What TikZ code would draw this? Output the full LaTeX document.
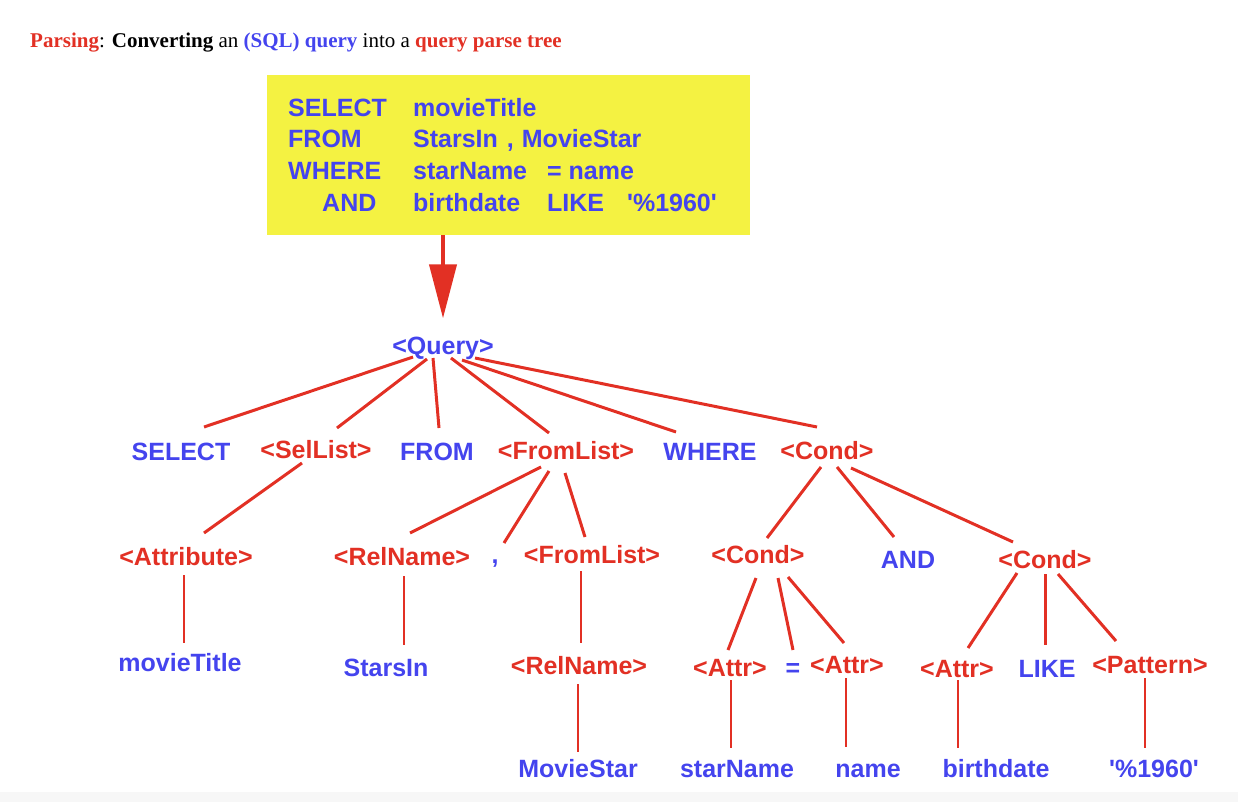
\documentclass[tikz,border=0pt]{standalone}
\usepackage{fontspec}
\setmainfont{Liberation Serif}
\newfontfamily\treefont{Liberation Sans}
\usetikzlibrary{arrows.meta,calc}

\definecolor{sqlblue}{RGB}{68,68,238}
\definecolor{treered}{RGB}{226,48,36}
\definecolor{boxyellow}{RGB}{244,242,66}

\tikzset{
  term/.style={anchor=base, inner sep=0pt, text=sqlblue,
    font=\treefont\bfseries\fontsize{25}{30}\selectfont},
  nonterm/.style={term, text=treered},
  sqltext/.style={term, anchor=base west},
  edge/.style={treered, line width=3pt},
  leaf/.style={treered, line width=1.6pt},
  bigarrow/.style={treered, line width=4pt, -{Triangle[width=27pt,length=54pt]}},
}

\begin{document}
\begin{tikzpicture}[x=1pt,y=-1pt]
  \useasboundingbox (0,0) rectangle (1238,802);
  \fill[gray!6] (0,792) rectangle (1238,802);

  % title
  \node[anchor=base west, inner sep=0pt, font=\fontsize{21}{25}\selectfont] (title) at (30,48)
    {\textbf{\color{treered}Parsing}: \textbf{Converting} an \textbf{\color{sqlblue}(SQL) query} into a \textbf{\color{treered}query parse tree}};

  % the query
  \node[fill=boxyellow, minimum width=483, minimum height=160, inner sep=0pt] (sql) at (508.5,155) {};
  \node[sqltext] (kwsel) at (288,117) {SELECT};
  \node[sqltext] (kwfrom) at (288,148) {FROM};
  \node[sqltext] (kwwhere) at (288,180) {WHERE};
  \node[sqltext] (kwand) at (322,212) {AND};
  \node[sqltext] (argsel) at (413,117) {movieTitle};
  \node[sqltext] (argfrom) at (413,148) {StarsIn\hspace{9pt},\hspace{8pt}MovieStar};
  \node[sqltext] (argwhere) at (413,180) {starName\hspace{20pt}= name};
  \node[sqltext] (argand) at (413,212) {birthdate\hspace{27pt}LIKE\hspace{23pt}\textquotesingle\%1960\textquotesingle};

  % parse tree
  \node[term] (q) at (443,354) {<Query>};
  \draw[bigarrow, shorten >=18pt] (q.north |- sql.south) -- (q.north);

  \node[term] (sel) at (181,460) {SELECT};
  \node[nonterm] (sl) at (316,458) {<SelList>};
  \node[term] (from) at (437,460) {FROM};
  \node[nonterm] (fl) at (566,459) {<FromList>};
  \node[term] (where) at (710,460) {WHERE};
  \node[nonterm] (cond) at (827,459) {<Cond>};

  \node[nonterm] (attrib) at (186,565) {<Attribute>};
  \node[nonterm] (rn) at (402,565) {<RelName>};
  \node[term] (comma) at (495,563) {,};
  \node[nonterm] (fl2) at (592,563) {<FromList>};
  \node[nonterm] (c1) at (758,563) {<Cond>};
  \node[term] (and) at (908,568) {AND};
  \node[nonterm] (c2) at (1045,568) {<Cond>};

  \node[term] (mt) at (180,671) {movieTitle};
  \node[term] (si) at (386,676) {StarsIn};
  \node[nonterm] (rn2) at (579,674) {<RelName>};
  \node[nonterm] (a1) at (730,676) {<Attr>};
  \node[term] (eq) at (793,676) {=};
  \node[nonterm] (a2) at (847,673) {<Attr>};
  \node[nonterm] (a3) at (957,677) {<Attr>};
  \node[term] (like) at (1047,677) {LIKE};
  \node[nonterm] (pat) at (1150,673) {<Pattern>};

  \node[term] (ms) at (578,777) {MovieStar};
  \node[term] (sn) at (737,777) {starName};
  \node[term] (nm) at (868,777) {name};
  \node[term] (bd) at (996,777) {birthdate};
  \node[term] (pct) at (1154,777) {\textquotesingle\%1960\textquotesingle};

  % branches
  \draw[edge] ($(q.base)+(-30,3)$) -- ($(sel.base)+(23,-33)$);
  \draw[edge] ($(q.base)+(-16,5)$) -- ($(sl.base)+(21,-30)$);
  \draw[edge] ($(q.base)+(-10,4)$) -- ($(from.base)+(2,-32)$);
  \draw[edge] ($(q.base)+(8,4)$) -- ($(fl.base)+(-17,-26)$);
  \draw[edge] ($(q.base)+(19,6)$) -- ($(where.base)+(-34,-28)$);
  \draw[edge] ($(q.base)+(32,4)$) -- ($(cond.base)+(-10,-32)$);

  \draw[edge] ($(sl.base)+(-14,5)$) -- ($(attrib.base)+(18,-32)$);
  \draw[edge] ($(fl.base)+(-25,8)$) -- ($(rn.base)+(8,-32)$);
  \draw[edge] ($(fl.base)+(-17,12)$) -- ($(comma.base)+(9,-20)$);
  \draw[edge] ($(fl.base)+(-1,14)$) -- ($(fl2.base)+(-7,-26)$);
  \draw[edge] ($(cond.base)+(-6,8)$) -- ($(c1.base)+(9,-25)$);
  \draw[edge] ($(cond.base)+(10,8)$) -- ($(and.base)+(-14,-31)$);
  \draw[edge] ($(cond.base)+(24,9)$) -- ($(c2.base)+(-32,-26)$);

  \draw[edge] ($(c1.base)+(-2,15)$) -- ($(a1.base)+(-2,-26)$);
  \draw[edge] ($(c1.base)+(20,15)$) -- ($(eq.base)+(0,-26)$);
  \draw[edge] ($(c1.base)+(30,14)$) -- ($(a2.base)+(-3,-30)$);
  \draw[edge] ($(c2.base)+(-28,5)$) -- ($(a3.base)+(11,-29)$);
  \draw[edge] ($(c2.base)+(0,6)$) -- ($(like.base)+(-2,-32)$);
  \draw[edge] ($(c2.base)+(13,6)$) -- ($(pat.base)+(-34,-32)$);

  \draw[leaf] ($(attrib.base)+(-2,10)$) -- ($(mt.base)+(4,-28)$);
  \draw[leaf] ($(rn.base)+(2,11)$) -- ($(si.base)+(18,-31)$);
  \draw[leaf] ($(fl2.base)+(-11,8)$) -- ($(rn2.base)+(2,-31)$);
  \draw[leaf] ($(rn2.base)+(-1,10)$) -- ($(ms.base)+(0,-25)$);
  \draw[leaf] ($(a1.base)+(1,4)$) -- ($(sn.base)+(-6,-29)$);
  \draw[leaf] ($(a2.base)+(-1,5)$) -- ($(nm.base)+(-22,-30)$);
  \draw[leaf] ($(a3.base)+(1,3)$) -- ($(bd.base)+(-38,-29)$);
  \draw[leaf] ($(pat.base)+(-5,5)$) -- ($(pct.base)+(-9,-29)$);
\end{tikzpicture}
\end{document}
